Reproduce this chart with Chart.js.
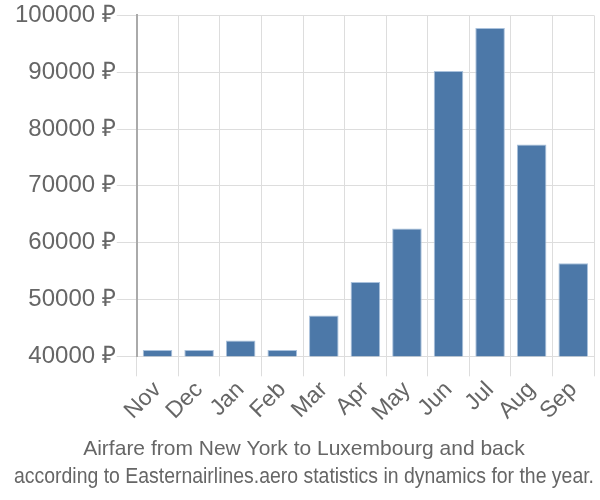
<!DOCTYPE html>
<html><head><meta charset="utf-8">
<script src="https://cdn.jsdelivr.net/npm/chart.js@4/dist/chart.umd.min.js"></script>
<style>html,body{margin:0;padding:0;background:#fff}#wrap{width:600px;height:500px}</style>
</head><body><div id="wrap"><canvas id="c"></canvas></div>
<script>
const months = ['Nov','Dec','Jan','Feb','Mar','Apr','May','Jun','Jul','Aug','Sep'];
const prices = [41100, 41100, 42800, 41100, 47200, 53100, 62500, 90200, 97800, 77300, 56400];
const yMin = 40000, yMax = 100000, yStep = 10000;
const currency = ' ₽';
const titleText = 'Airfare from New York to Luxembourg and back';
const subtitleText = 'according to Easternairlines.aero statistics in dynamics for the year.';

Chart.defaults.font.family = '"Liberation Sans", Arial, sans-serif';
new Chart(document.getElementById('c'), {
  type: 'bar',
  data: { labels: months, datasets: [{ data: prices, backgroundColor: '#4c78a8', borderColor: '#a9c1dc', borderWidth: 1, barPercentage: 0.9, categoryPercentage: 0.79 }] },
  options: {
    responsive: true, maintainAspectRatio: false, animation: false,
    layout: { padding: { left: 14, right: 6, top: 3, bottom: 10 } },
    plugins: {
      legend: { display: false }, tooltip: { enabled: false },
      title: { display: true, text: titleText, position: 'bottom', weight: 1000, color: '#666', font: { size: 21, weight: 'normal' }, padding: { top: 10, bottom: 0 } },
      subtitle: { display: true, text: subtitleText, position: 'bottom', weight: 1500, color: '#666', font: { size: 22.7, family: '"Liberation Sans Narrow", "Liberation Sans", sans-serif' }, padding: { top: 1, bottom: 0 } }
    },
    scales: {
      x: { grid: { color: '#dddddd', tickLength: 20, offset: true }, border: { color: '#dddddd' },
           ticks: { color: '#666', font: { size: 23 }, maxRotation: 45, minRotation: 45, padding: 0, autoSkip: false } },
      y: { min: yMin, max: yMax, grid: { color: '#dddddd', tickLength: 20 }, border: { color: '#aaaaaa', width: 2 },
           ticks: { stepSize: yStep, color: '#666', font: { size: 24 }, padding: 1, callback: v => v + currency } }
    }
  }
});
</script></body></html>
